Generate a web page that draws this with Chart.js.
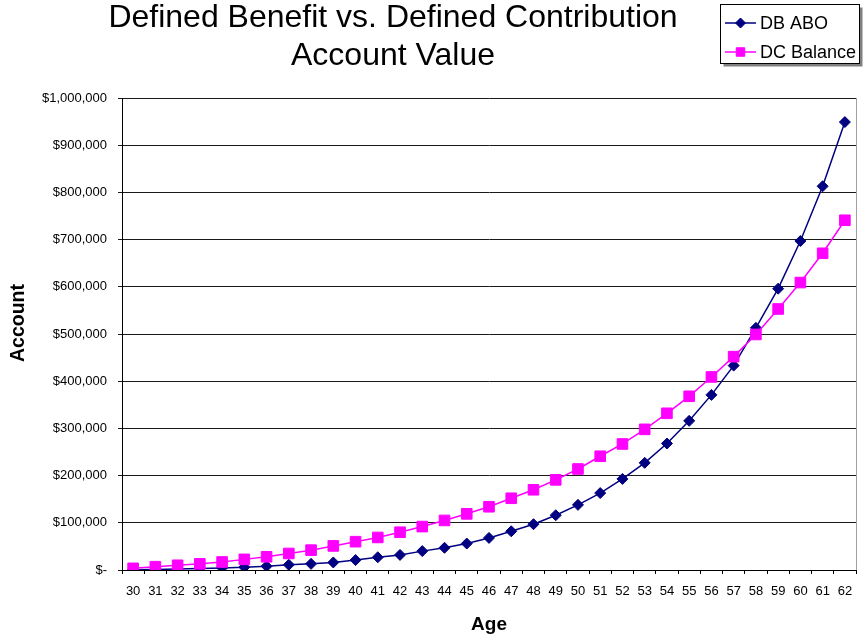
<!DOCTYPE html>
<html>
<head>
<meta charset="utf-8">
<script src="https://cdn.jsdelivr.net/npm/chart.js@4/dist/chart.umd.min.js"></script>
<style>
  html, body { margin: 0; padding: 0; background: #fff; }
  #wrap { width: 865px; height: 636px; }
</style>
</head>
<body>
<div id="wrap"><canvas id="chart"></canvas></div>
<script>
// --- datos ---
const ages = [30, 31, 32, 33, 34, 35, 36, 37, 38, 39, 40, 41, 42, 43, 44, 45, 46,
              47, 48, 49, 50, 51, 52, 53, 54, 55, 56, 57, 58, 59, 60, 61, 62];
const dbAbo = [500, 1200, 2000, 3000, 4500, 6000, 8000, 11000, 13000, 16000, 21000,
               27000, 32000, 40000, 47000, 56000, 68000, 82000, 97000, 116000, 138000,
               163000, 193000, 227000, 268000, 316000, 371000, 433000, 513000, 596000,
               697000, 813000, 949000];
const dcBalance = [3500, 7000, 10000, 13000, 17000, 22500, 28000, 35000, 42000, 51000,
                   60000, 69000, 80000, 92000, 105000, 119000, 134000, 152000, 170000,
                   191000, 214000, 241000, 267000, 298000, 332000, 368000, 409000,
                   452000, 499000, 553000, 609000, 671000, 741000];
const titleLines = ['Defined Benefit vs. Defined Contribution', 'Account Value'];
const seriesNames = ['DB ABO', 'DC Balance'];
const yAxisTitle = 'Account';

const FONT = "'Liberation Sans', Arial, sans-serif";
const colors = { db: '#000080', dc: '#FF00FF', grid: '#1a1a1a', frame: '#A0A0A0' };

// titulo, leyenda y titulo del eje Y dibujados a mano (posiciones como en Excel)
const excelDecor = {
    id: 'excelDecor',
    afterDraw(chart) {
        const { ctx, chartArea: { top, bottom, right } } = chart;
        ctx.save();
        // borde derecho gris del area de trazado
        ctx.strokeStyle = colors.frame;
        ctx.lineWidth = 1;
        ctx.beginPath();
        ctx.moveTo(Math.round(right) + 0.5, top);
        ctx.lineTo(Math.round(right) + 0.5, bottom);
        ctx.stroke();

        // titulo
        ctx.fillStyle = '#000';
        ctx.font = `32px ${FONT}`;
        ctx.textAlign = 'center';
        ctx.textBaseline = 'middle';
        ctx.fillText(titleLines[0], 393, 18);
        ctx.fillText(titleLines[1], 393, 56);

        // titulo eje Y
        ctx.save();
        ctx.translate(19, 323);
        ctx.rotate(-Math.PI / 2);
        ctx.font = `bold 19.5px ${FONT}`;
        ctx.fillText(yAxisTitle, 0, 0);
        ctx.restore();

        // leyenda
        const bx = 720.5, by = 4.5, bw = 139, bh = 59;
        ctx.fillStyle = '#808080';
        ctx.fillRect(bx + 3, by + 3, bw, bh);
        ctx.fillStyle = '#fff';
        ctx.fillRect(bx, by, bw, bh);
        ctx.strokeStyle = '#000';
        ctx.strokeRect(bx, by, bw, bh);
        chart.data.datasets.forEach((ds, i) => {
            const y = 23 + i * 29;
            ctx.strokeStyle = ds.borderColor;
            ctx.lineWidth = 1.5;
            ctx.beginPath();
            ctx.moveTo(725, y);
            ctx.lineTo(756, y);
            ctx.stroke();
            ctx.fillStyle = ds.backgroundColor;
            ctx.lineWidth = 1;
            Chart.helpers.drawPoint(ctx, {
                pointStyle: ds.pointStyle,
                rotation: 0,
                borderWidth: 1,
                radius: ds.pointStyle === 'rect' ? 6 : 5
            }, 740.5, y);
            ctx.fillStyle = '#000';
            ctx.font = `18px ${FONT}`;
            ctx.textAlign = 'left';
            ctx.fillText(ds.label, 760, y + 1);
        });
        ctx.restore();
    }
};

new Chart(document.getElementById('chart'), {
    type: 'line',
    data: {
        labels: ages,
        datasets: [
            {
                label: seriesNames[0],
                data: dbAbo,
                borderColor: colors.db,
                backgroundColor: colors.db,
                borderWidth: 1.5,
                pointStyle: 'rectRot',
                pointRadius: 5.5,
                pointBorderWidth: 1,
                tension: 0,
                order: 2
            },
            {
                label: seriesNames[1],
                data: dcBalance,
                borderColor: colors.dc,
                backgroundColor: colors.dc,
                borderWidth: 1.5,
                pointStyle: 'rect',
                pointRadius: 7.5,
                pointBorderWidth: 1,
                tension: 0,
                order: 1
            }
        ]
    },
    plugins: [excelDecor],
    options: {
        responsive: true,
        maintainAspectRatio: false,
        animation: false,
        layout: { padding: { top: 98, right: 9, left: 0, bottom: 0 } },
        plugins: {
            legend: { display: false },
            title: { display: false },
            tooltip: { enabled: false }
        },
        scales: {
            x: {
                offset: true,
                afterFit: (s) => { s.height = 66; },
                border: { color: '#000', width: 1 },
                grid: { drawOnChartArea: false, offset: true, tickLength: 4, color: '#000' },
                ticks: { color: '#000', font: { family: FONT, size: 13 }, padding: 10, maxRotation: 0, autoSkip: false },
                title: { display: true, text: 'Age', color: '#000', font: { family: FONT, size: 19, weight: 'bold' }, padding: { top: 0, bottom: 0 } }
            },
            y: {
                min: 0,
                max: 1000000,
                afterFit: (s) => { s.width = 122; },
                border: { color: '#000', width: 1 },
                grid: { color: colors.grid, tickLength: 4 },
                ticks: {
                    stepSize: 100000,
                    color: '#000',
                    padding: 11,
                    font: { family: FONT, size: 13 },
                    callback: (v) => v === 0 ? '$-' : '$' + v.toLocaleString('en-US')
                },
                title: { display: false }
            }
        }
    }
});
</script>
</body>
</html>
